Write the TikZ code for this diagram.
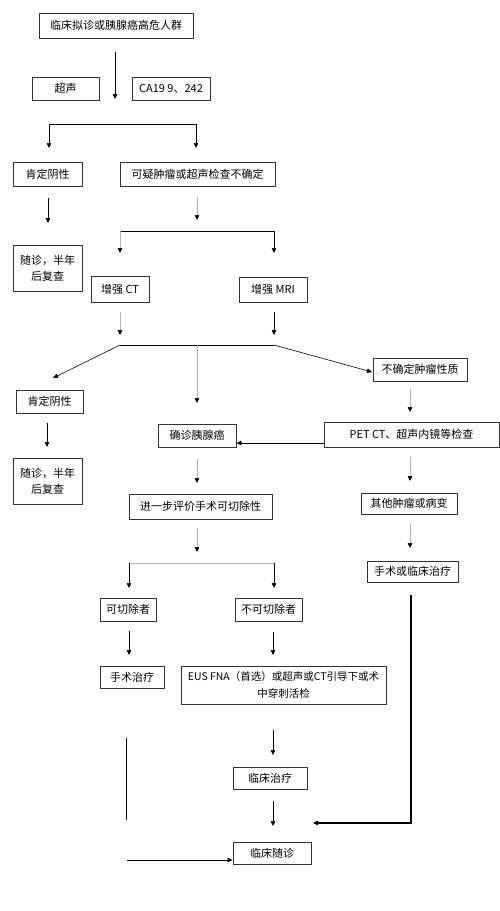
\documentclass[tikz,border=0pt]{standalone}
\usepackage{fontspec}
\setmainfont{Noto Sans CJK SC}
\usetikzlibrary{arrows.meta}
\tikzset{
  box/.style={draw=black!80, line width=0.8pt, inner sep=0pt, align=center,
    font=\fontsize{11}{16}\selectfont},
  arr/.style={line width=0.7pt, -{Triangle[length=5pt,width=4.5pt,color=black]}},
  garr/.style={arr, draw=black!30},
  ln/.style={line width=0.7pt},
  gln/.style={line width=0.7pt, draw=black!30},
}
\begin{document}
\begin{tikzpicture}[x=1pt,y=-1pt]
\fill[white] (0,0) rectangle (500,911);
\useasboundingbox (0,0) rectangle (500,911);
% nodes
\node[box, minimum width=154, minimum height=25] (b1) at (116,25.5) {临床拟诊或胰腺癌高危人群};
\node[box, minimum width=67, minimum height=23] (us) at (65.5,88.5) {超声};
\node[box, minimum width=78, minimum height=23] (ca) at (171,88.5) {CA19 9、242};
\node[box, minimum width=69, minimum height=24] (neg1) at (47.5,174) {肯定阴性};
\node[box, minimum width=155, minimum height=24] (sus) at (197.5,174) {可疑肿瘤或超声检查不确定};
\node[box, minimum width=69, minimum height=46] (fu1) at (47.5,268) {随诊，半年\\后复查};
\node[box, minimum width=58, minimum height=26] (ct) at (120,289) {增强 CT};
\node[box, minimum width=68, minimum height=25] (mri) at (273,289.5) {增强 MRI};
\node[box, minimum width=94, minimum height=23] (unc) at (420,369.5) {不确定肿瘤性质};
\node[box, minimum width=67, minimum height=23] (neg2) at (49.5,401.5) {肯定阴性};
\node[box, minimum width=78, minimum height=23] (conf) at (197,435.5) {确诊胰腺癌};
\node[box, minimum width=175, minimum height=25] (pet) at (411.5,434.5) {PET CT、超声内镜等检查};
\node[box, minimum width=69, minimum height=46] (fu2) at (47.5,481) {随诊，半年\\后复查};
\node[box, minimum width=143, minimum height=25] (eval) at (200.5,506.5) {进一步评价手术可切除性};
\node[box, minimum width=96, minimum height=21] (oth) at (409,503.5) {其他肿瘤或病变};
\node[box, minimum width=91, minimum height=21] (sur) at (412.5,571.5) {手术或临床治疗};
\node[box, minimum width=56, minimum height=23] (res) at (128,609.5) {可切除者};
\node[box, minimum width=67, minimum height=23] (unres) at (268.5,609.5) {不可切除者};
\node[box, minimum width=64, minimum height=22] (st) at (132,677) {手术治疗};
\node[box, minimum width=205, minimum height=38, font=\fontsize{10.5}{17}\selectfont] (eus) at (283.5,685) {EUS FNA（首选）或超声或CT引导下或术\\中穿刺活检};
\node[box, minimum width=74, minimum height=22] (clt) at (270,778) {临床治疗};
\node[box, minimum width=78, minimum height=22] (fu3) at (272,853) {临床随诊};
% coordinates for floating connectors
\coordinate (a1s) at (115,52);  \coordinate (a1e) at (115,99);
\coordinate (k1l) at (49,124);  \coordinate (k1r) at (196,124);
\coordinate (k1le) at (49,148); \coordinate (k1re) at (196,148);
\coordinate (a3s) at (48,198);  \coordinate (a3e) at (48,223);
\coordinate (a4s) at (197,197); \coordinate (a4e) at (197,220);
\coordinate (k2l) at (120,231); \coordinate (k2r) at (274,231);
\coordinate (k2le) at (120,253); \coordinate (k2re) at (274,253);
\coordinate (a6s) at (120,312); \coordinate (a6e) at (120,335);
\coordinate (a7s) at (274,312); \coordinate (a7e) at (274,335);
\coordinate (h1l) at (120,345); \coordinate (h1m) at (197,345); \coordinate (h1r) at (274,345);
\coordinate (d1e) at (53,378);
\coordinate (m1e) at (197,403);
\coordinate (d2e) at (372,372);
\coordinate (a11s) at (410,389); \coordinate (a11e) at (410,412);
\coordinate (a12s) at (47,423);  \coordinate (a12e) at (47,447);
\coordinate (a14s) at (197,459); \coordinate (a14e) at (197,483);
\coordinate (a15s) at (410,457); \coordinate (a15e) at (410,481);
\coordinate (a16s) at (410,524); \coordinate (a16e) at (410,548);
\coordinate (a17s) at (197,528); \coordinate (a17e) at (197,552);
\coordinate (k3l) at (129,563); \coordinate (k3r) at (274,563);
\coordinate (k3le) at (129,588); \coordinate (k3re) at (274,588);
\coordinate (a19s) at (129,631); \coordinate (a19e) at (129,655);
\coordinate (a20s) at (273,632); \coordinate (a20e) at (273,655);
\coordinate (a21s) at (273,730); \coordinate (a21e) at (273,755);
\coordinate (a22s) at (273,801); \coordinate (a22e) at (273,826);
\coordinate (t1s) at (411,595); \coordinate (t1c) at (411,823); \coordinate (t1e) at (313,823);
\coordinate (v1s) at (126,738); \coordinate (v1e) at (126,820);
\coordinate (h2s) at (127,860);
% connectors
\draw[arr] (a1s) -- (a1e);
\draw[ln] (k1l) -- (k1r);
\draw[arr] (k1l) -- (k1le);
\draw[arr] (k1r) -- (k1re);
\draw[arr] (a3s) -- (a3e);
\draw[garr] (a4s) -- (a4e);
\draw[ln] (k2l) -- (k2r);
\draw[garr] (k2l) -- (k2le);
\draw[arr] (k2r) -- (k2re);
\draw[garr] (a6s) -- (a6e);
\draw[arr] (a7s) -- (a7e);
\draw[ln] (h1l) -- (h1r);
\draw[arr, line width=0.6pt] (h1l) -- (d1e);
\draw[garr] (h1m) -- (m1e);
\draw[arr, line width=0.6pt] (h1r) -- (d2e);
\draw[garr] (a11s) -- (a11e);
\draw[arr] (a12s) -- (a12e);
\draw[arr] (pet.west |- 0,443) -- (conf.east |- 0,443);
\draw[garr] (a14s) -- (a14e);
\draw[garr] (a15s) -- (a15e);
\draw[garr] (a16s) -- (a16e);
\draw[garr] (a17s) -- (a17e);
\draw[gln] (k3l) -- (k3r);
\draw[arr] (k3l) -- (k3le);
\draw[arr] (k3r) -- (k3re);
\draw[arr] (a19s) -- (a19e);
\draw[arr] (a20s) -- (a20e);
\draw[arr] (a21s) -- (a21e);
\draw[arr] (a22s) -- (a22e);
\draw[arr, line width=1.5pt] (t1s) -- (t1c) -- (t1e);
\draw[ln] (v1s) -- (v1e);
\draw[arr] (h2s) -- (fu3.west |- h2s);
\end{tikzpicture}
\end{document}
